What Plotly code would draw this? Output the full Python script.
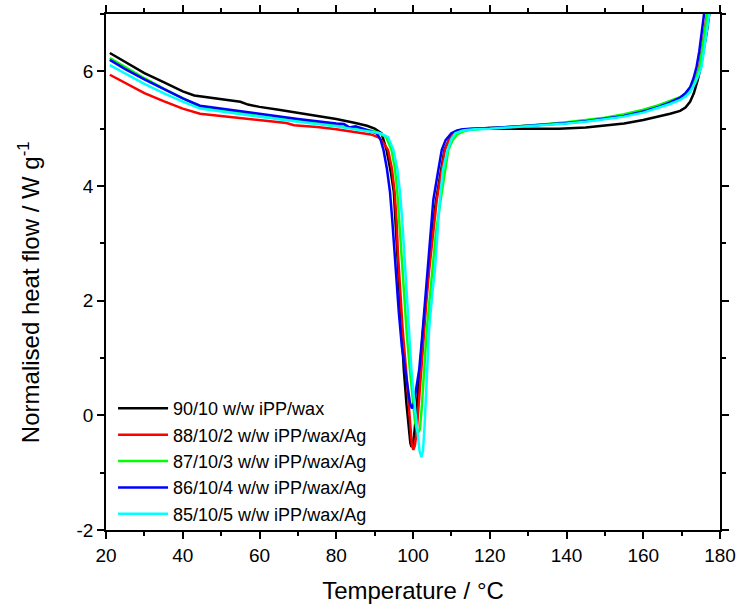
import plotly.graph_objects as go

labels = ["90/10 w/w iPP/wax", "88/10/2 w/w iPP/wax/Ag", "87/10/3 w/w iPP/wax/Ag",
          "86/10/4 w/w iPP/wax/Ag", "85/10/5 w/w iPP/wax/Ag"]
colors = ["#000000", "#FF0000", "#00FF00", "#0000FF", "#00FFFF"]

y_tickvals = [-2, 0, 2, 4, 6]
y_ticktext = ["-2", "0", "2", "4", "6"]

T_black = [21, 25, 30, 35, 40, 43, 47, 52, 55, 57, 60, 65, 70, 75, 80, 85, 88, 90, 91.8, 93.1, 94.2, 95.0, 95.4, 95.8, 96.3, 97.0, 97.6, 98.3, 98.9, 99.3, 99.6, 99.9, 100.3, 100.8, 101.3, 101.8, 102.5, 103.3, 104.0, 105.0, 106.0, 107.0, 108.2, 109.5, 110.8, 112, 114, 117, 120, 130, 138, 145, 150, 155, 160, 164, 167, 169.6, 171, 172.2, 173.2, 174.2, 175.0, 175.8, 176.5, 177.2, 178]
V_black = [6.32, 6.16, 5.97, 5.81, 5.65, 5.58, 5.54, 5.50, 5.47, 5.42, 5.38, 5.33, 5.28, 5.22, 5.17, 5.10, 5.05, 5.00, 4.92, 4.63, 4.25, 3.9, 3.4, 2.8, 2.2, 1.4, 0.8, 0.2, -0.25, -0.48, -0.55, -0.52, -0.35, 0.0, 0.35, 0.79, 1.4, 2.0, 2.53, 3.2, 3.75, 4.15, 4.63, 4.82, 4.92, 4.97, 4.99, 5.0, 5.0, 5.0, 5.0, 5.02, 5.05, 5.09, 5.15, 5.21, 5.26, 5.31, 5.37, 5.47, 5.62, 5.85, 6.08, 6.4, 6.66, 7.0, 7.5]

T_red = [21, 25, 30, 35, 40, 44.5, 50, 55, 60, 65, 67, 69, 75, 80, 86, 89, 91, 92.3, 93.5, 94.5, 95.2, 95.7, 96.1, 96.6, 97.3, 98.2, 98.8, 99.3, 99.7, 100.1, 100.5, 101.0, 101.5, 102.1, 102.8, 103.5, 104.2, 105.2, 106.2, 107.5, 108.3, 109.5, 110.8, 112, 113.5, 116, 120, 125, 130, 135, 140, 145, 150, 155, 160, 164, 167, 169.6, 171, 172.2, 173.3, 174.0, 174.6, 175.3, 175.9, 176.6, 177.2]
V_red = [5.94, 5.80, 5.62, 5.48, 5.35, 5.26, 5.22, 5.18, 5.15, 5.12, 5.10, 5.06, 5.03, 4.99, 4.93, 4.90, 4.85, 4.75, 4.63, 4.3, 3.9, 3.4, 2.8, 2.2, 1.5, 0.79, 0.2, -0.25, -0.52, -0.60, -0.52, -0.25, 0.2, 0.79, 1.45, 2.0, 2.53, 3.2, 3.76, 4.28, 4.63, 4.82, 4.92, 4.97, 4.99, 5.0, 5.01, 5.03, 5.05, 5.07, 5.10, 5.14, 5.18, 5.24, 5.32, 5.40, 5.47, 5.54, 5.60, 5.68, 5.78, 5.92, 6.08, 6.4, 6.66, 7.0, 7.4]

T_green = [21, 25, 30, 35, 40, 44.5, 50, 55, 60, 70, 80, 86, 89, 91, 93, 94.4, 95.3, 95.9, 96.4, 96.9, 97.6, 98.4, 99.2, 99.9, 100.5, 101.0, 101.4, 101.8, 102.3, 102.9, 103.6, 104.3, 105.1, 106.0, 107.2, 108.3, 109.2, 110.3, 111.5, 113, 115, 117, 120, 125, 130, 135, 140, 145, 150, 155, 160, 164, 167, 169.6, 171, 172.2, 173.4, 174.1, 174.7, 175.4, 176.0, 176.7, 177.3]
V_green = [6.23, 6.07, 5.88, 5.70, 5.53, 5.38, 5.32, 5.27, 5.22, 5.14, 5.05, 4.99, 4.97, 4.93, 4.85, 4.63, 4.3, 3.9, 3.4, 2.8, 2.1, 1.4, 0.79, 0.25, -0.1, -0.26, -0.29, -0.24, 0.15, 0.79, 1.5, 2.0, 2.53, 3.2, 3.76, 4.28, 4.63, 4.80, 4.90, 4.95, 4.98, 4.99, 5.01, 5.03, 5.05, 5.08, 5.11, 5.15, 5.19, 5.25, 5.33, 5.41, 5.48, 5.55, 5.61, 5.69, 5.80, 5.94, 6.08, 6.4, 6.66, 7.0, 7.4]

T_blue = [21, 25, 30, 35, 40, 44.5, 50, 55, 60, 70, 80, 82, 83.5, 85, 87, 89, 90.5, 91.5, 92.3, 93.2, 94.0, 94.6, 95.1, 95.6, 96.3, 97.1, 97.9, 98.6, 99.2, 99.7, 100.2, 100.8, 101.6, 102.3, 103.0, 103.8, 104.5, 105.3, 106.6, 107.5, 108.5, 110, 111.5, 113, 116, 120, 125, 130, 135, 140, 145, 150, 155, 160, 164, 167, 169.6, 171, 172.2, 173.1, 173.9, 174.6, 175.2, 175.7, 176.1, 176.8]
V_blue = [6.20, 6.04, 5.86, 5.69, 5.53, 5.40, 5.35, 5.30, 5.25, 5.17, 5.09, 5.08, 5.02, 5.04, 5.00, 4.95, 4.92, 4.82, 4.63, 4.3, 3.9, 3.4, 2.9, 2.4, 1.8, 1.2, 0.79, 0.45, 0.22, 0.12, 0.2, 0.45, 0.79, 1.3, 1.9, 2.53, 3.2, 3.76, 4.28, 4.63, 4.80, 4.92, 4.97, 4.99, 5.0, 5.01, 5.03, 5.05, 5.07, 5.10, 5.13, 5.17, 5.22, 5.30, 5.38, 5.46, 5.54, 5.62, 5.72, 5.88, 6.08, 6.35, 6.66, 6.85, 7.05, 7.5]

T_cyan = [21, 25, 30, 35, 40, 44.5, 50, 55, 60, 70, 80, 86, 89, 91.5, 93.5, 94.9, 95.9, 96.6, 97.2, 97.8, 98.5, 99.0, 99.6, 100.4, 101.1, 101.7, 102.2, 102.6, 103.0, 103.3, 103.6, 104.2, 105.0, 105.7, 106.4, 107.0, 107.8, 109.0, 110, 111, 113, 116, 120, 125, 130, 135, 140, 145, 150, 155, 160, 164, 167, 169.6, 171, 172.2, 173.4, 174.3, 175.2, 175.9, 176.5, 177.2, 177.8]
V_cyan = [6.11, 5.96, 5.78, 5.62, 5.47, 5.35, 5.30, 5.25, 5.20, 5.12, 5.04, 4.98, 4.95, 4.92, 4.85, 4.63, 4.3, 3.9, 3.4, 2.7, 2.0, 1.4, 0.79, 0.2, -0.3, -0.62, -0.73, -0.62, -0.2, 0.3, 0.79, 1.5, 2.1, 2.53, 3.2, 3.76, 4.28, 4.63, 4.82, 4.92, 4.97, 4.99, 5.0, 5.02, 5.04, 5.06, 5.09, 5.12, 5.16, 5.21, 5.28, 5.36, 5.43, 5.50, 5.56, 5.64, 5.78, 5.92, 6.08, 6.4, 6.66, 7.0, 7.4]

xs = [T_black, T_red, T_green, T_blue, T_cyan]
ys = [V_black, V_red, V_green, V_blue, V_cyan]

font_family = "Liberation Sans, Arial, sans-serif"

fig = go.Figure()
for x, y, name, c in zip(xs, ys, labels, colors):
    fig.add_trace(go.Scatter(x=x, y=y, mode="lines", name=name,
                             line=dict(color=c, width=2.5)))

axis_common = dict(
    showline=True, linecolor="black", linewidth=1.5, mirror="ticks",
    ticks="outside", ticklen=7, tickwidth=1.5, tickcolor="black",
    showgrid=False, zeroline=False,
    tickfont=dict(family=font_family, size=19, color="black"),
)

fig.update_xaxes(range=[20, 180], dtick=20, tick0=20,
                 minor=dict(dtick=10, ticks="outside", ticklen=4, tickwidth=1.5, tickcolor="black"),
                 title=dict(text="Temperature / °C", font=dict(family=font_family, size=24, color="black"), standoff=18),
                 **axis_common)
fig.update_yaxes(range=[-2, 7], tickmode="array", tickvals=y_tickvals, ticktext=y_ticktext,
                 minor=dict(dtick=1, tick0=0, ticks="outside", ticklen=4, tickwidth=1.5, tickcolor="black"),
                 **axis_common)

fig.add_annotation(text="Normalised heat flow / W g<sup>-1</sup>",
                   xref="paper", yref="paper", x=-0.1254, y=0.461,
                   xanchor="center", yanchor="middle", textangle=-90, showarrow=False,
                   font=dict(family=font_family, size=24, color="black"))

fig.update_layout(
    width=738, height=605,
    margin=dict(l=106, r=18, t=14, b=75, autoexpand=False),
    plot_bgcolor="white", paper_bgcolor="white",
    showlegend=True,
    legend=dict(x=0.0115, y=-0.004, xanchor="left", yanchor="bottom",
                bgcolor="rgba(0,0,0,0)", borderwidth=0,
                font=dict(family=font_family, size=18, color="black"),
                itemwidth=50, tracegroupgap=0),
)

fig.write_html("out.html")
